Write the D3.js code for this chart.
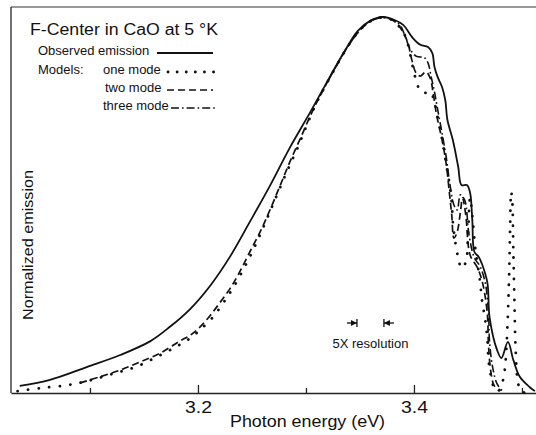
<!DOCTYPE html>
<html>
<head>
<meta charset="utf-8">
<script src="https://cdn.jsdelivr.net/npm/d3@7"></script>
<style>
  body { margin: 0; background: #fff; }
  text { font-family: "Liberation Sans", Arial, sans-serif; fill: #111; }
</style>
</head>
<body>
<div id="chart"></div>
<script>
// Photon energy (eV), normalized emission
const observedEmission = [
  [3.035, 0.019], [3.063, 0.035], [3.097, 0.069], [3.128, 0.101], [3.156, 0.138],
  [3.174, 0.176], [3.193, 0.224], [3.211, 0.284], [3.230, 0.364], [3.248, 0.455],
  [3.267, 0.553], [3.285, 0.652], [3.304, 0.747], [3.322, 0.840], [3.336, 0.910],
  [3.348, 0.963], [3.359, 0.989], [3.371, 1.000], [3.382, 0.992],
  [3.390, 0.979], [3.399, 0.944], [3.406, 0.926], [3.413, 0.920], [3.417, 0.904],
  [3.419, 0.867], [3.422, 0.840], [3.426, 0.814], [3.429, 0.779], [3.431, 0.726],
  [3.436, 0.673], [3.441, 0.601], [3.444, 0.553], [3.449, 0.553], [3.452, 0.532],
  [3.454, 0.460], [3.456, 0.375], [3.460, 0.362], [3.463, 0.343], [3.468, 0.293],
  [3.470, 0.202], [3.477, 0.114], [3.481, 0.093], [3.487, 0.136], [3.492, 0.088],
  [3.498, 0.043], [3.507, 0.016], [3.512, 0.005]
];

const oneMode = [
  [3.033, 0.005], [3.054, 0.013], [3.079, 0.021], [3.098, 0.032], [3.121, 0.051],
  [3.142, 0.069], [3.162, 0.096], [3.181, 0.125], [3.193, 0.146], [3.202, 0.168],
  [3.213, 0.199], [3.224, 0.242], [3.233, 0.282], [3.248, 0.362], [3.261, 0.444],
  [3.272, 0.519], [3.283, 0.593], [3.293, 0.657], [3.302, 0.721], [3.311, 0.779],
  [3.322, 0.838], [3.335, 0.904],
  [3.346, 0.952], [3.357, 0.984], [3.367, 0.997], [3.376, 0.997], [3.385, 0.979],
  [3.392, 0.949], [3.396, 0.907], [3.400, 0.854], [3.404, 0.814], [3.409, 0.798],
  [3.415, 0.801], [3.419, 0.774], [3.421, 0.747], [3.424, 0.707], [3.427, 0.660],
  [3.430, 0.606], [3.433, 0.553], [3.435, 0.505], [3.436, 0.455], [3.438, 0.407],
  [3.441, 0.359], [3.444, 0.332], [3.448, 0.348], [3.450, 0.420], [3.452, 0.519],
  [3.454, 0.473], [3.457, 0.380], [3.461, 0.301], [3.463, 0.247], [3.466, 0.194],
  [3.468, 0.141], [3.469, 0.088], [3.471, 0.048], [3.474, 0.016], [3.478, 0.005],
  [3.481, 0.019], [3.484, 0.061], [3.486, 0.141], [3.488, 0.301], [3.489, 0.434],
  [3.490, 0.535], [3.491, 0.513], [3.492, 0.380], [3.493, 0.247], [3.494, 0.128],
  [3.496, 0.035], [3.499, 0.005], [3.505, 0.000]
];

const twoMode = [
  [3.091, 0.027], [3.109, 0.043], [3.128, 0.061], [3.146, 0.082], [3.165, 0.106],
  [3.183, 0.138], [3.193, 0.154], [3.202, 0.176], [3.211, 0.205], [3.220, 0.239],
  [3.230, 0.279], [3.239, 0.324], [3.248, 0.375], [3.258, 0.431], [3.267, 0.489],
  [3.276, 0.551], [3.285, 0.614], [3.295, 0.678], [3.304, 0.737], [3.313, 0.790],
  [3.327, 0.864], [3.341, 0.931], [3.355, 0.979], [3.369, 1.000], [3.380, 0.992],
  [3.387, 0.973], [3.394, 0.934], [3.398, 0.886], [3.402, 0.851], [3.406, 0.843],
  [3.411, 0.854], [3.415, 0.838], [3.418, 0.793], [3.421, 0.739], [3.426, 0.673],
  [3.430, 0.606], [3.433, 0.527], [3.435, 0.473], [3.437, 0.412], [3.440, 0.428],
  [3.443, 0.481], [3.445, 0.519], [3.448, 0.473], [3.452, 0.367], [3.459, 0.332],
  [3.464, 0.287], [3.468, 0.207], [3.469, 0.128], [3.471, 0.061], [3.474, 0.021],
  [3.479, 0.005]
];

const threeMode = [
  [3.313, 0.790], [3.327, 0.864], [3.341, 0.931], [3.355, 0.979], [3.367, 0.997],
  [3.378, 0.995], [3.387, 0.979], [3.392, 0.947], [3.397, 0.912], [3.402, 0.896],
  [3.410, 0.891], [3.413, 0.878], [3.416, 0.840], [3.419, 0.801], [3.422, 0.753],
  [3.426, 0.691], [3.430, 0.625], [3.433, 0.561], [3.437, 0.500], [3.440, 0.487],
  [3.443, 0.527], [3.447, 0.513], [3.451, 0.420], [3.456, 0.359], [3.461, 0.338],
  [3.466, 0.293], [3.469, 0.215], [3.470, 0.136], [3.473, 0.066], [3.477, 0.024],
  [3.482, 0.005]
];

const minorTicks = [3.1, 3.3, 3.5];
const majorTicks = [3.2, 3.4];
const xDomain = [3.0269, 3.513];

// 5X resolution marker (eV)
const resolutionMarks = [3.3472, 3.3722];

const legendItems = [
  { label: "Observed emission", style: "solid" },
  { label: "one mode", style: "dotted" },
  { label: "two mode", style: "dashed" },
  { label: "three mode", style: "dashdot" }
];

// Set up chart dimensions
const width = 536;
const height = 435;
const plot = { left: 11, right: 536, top: 7, bottom: 393 };

const svg = d3
  .select("#chart")
  .append("svg")
  .attr("width", width)
  .attr("height", height);

const x = d3.scaleLinear().domain(xDomain).range([plot.left, plot.right]);
const y = d3.scaleLinear().domain([0, 1]).range([plot.bottom, 17]);

const styles = {
  solid: { dash: null, width: 1.8, cap: "butt" },
  dotted: { dash: "0.1 10.5", width: 2.8, cap: "round" },
  dashed: { dash: "7 4", width: 1.7, cap: "butt" },
  dashdot: { dash: "8 3 1.6 3", width: 1.6, cap: "butt" }
};

// Frame: top and left edges
svg.append("line")
  .attr("x1", plot.left).attr("x2", plot.right)
  .attr("y1", plot.top).attr("y2", plot.top)
  .attr("stroke", "#333").attr("stroke-width", 1.2);
svg.append("line")
  .attr("x1", plot.left).attr("x2", plot.left)
  .attr("y1", plot.top).attr("y2", plot.bottom)
  .attr("stroke", "#222").attr("stroke-width", 1.3);

// Bottom axis with inward ticks
svg.append("g")
  .attr("transform", `translate(0,${plot.bottom})`)
  .call(d3.axisBottom(x).tickValues(minorTicks).tickSize(-5).tickSizeOuter(0).tickFormat(""))
  .call((g) => g.select(".domain").attr("stroke", "#222").attr("stroke-width", 1.4))
  .call((g) => g.selectAll(".tick line").attr("stroke", "#222").attr("stroke-width", 1.3));

const major = svg.append("g")
  .attr("transform", `translate(0,${plot.bottom})`)
  .call(d3.axisBottom(x).tickValues(majorTicks).tickSize(-8).tickSizeOuter(0).tickPadding(8).tickFormat(d3.format(".1f")));
major.select(".domain").remove();
major.selectAll(".tick line").attr("stroke", "#222").attr("stroke-width", 1.3);
major.selectAll(".tick text")
  .attr("fill", "#111")
  .style("font-family", "Liberation Sans, Arial, sans-serif")
  .style("font-size", "17px")
  .attr("textLength", 27)
  .attr("lengthAdjust", "spacingAndGlyphs");

// Axis titles
svg.append("text")
  .attr("x", 230).attr("y", 427)
  .attr("textLength", 155).attr("lengthAdjust", "spacingAndGlyphs")
  .style("font-size", "17px")
  .text("Photon  energy (eV)");

svg.append("text")
  .attr("transform", "translate(33,320) rotate(-90)")
  .attr("textLength", 150).attr("lengthAdjust", "spacingAndGlyphs")
  .style("font-size", "15px")
  .text("Normalized  emission");

// Curves
const line = d3.line()
  .x((d) => x(d[0]))
  .y((d) => y(d[1]))
  .curve(d3.curveCatmullRom.alpha(0.5));

const series = [
  { data: twoMode, style: "dashed" },
  { data: threeMode, style: "dashdot" },
  { data: oneMode, style: "dotted" },
  { data: observedEmission, style: "solid" }
];

series.forEach((s) => {
  const st = styles[s.style];
  svg.append("path")
    .datum(s.data)
    .attr("fill", "none")
    .attr("stroke", "#111")
    .attr("stroke-width", st.width)
    .attr("stroke-linecap", st.cap)
    .attr("stroke-linejoin", "round")
    .attr("stroke-dasharray", st.dash)
    .attr("d", line);
});

// Legend
svg.append("text")
  .attr("x", 30).attr("y", 35)
  .attr("textLength", 188).attr("lengthAdjust", "spacingAndGlyphs")
  .style("font-size", "16px")
  .text("F-Center in CaO at 5 °K");

svg.append("text").attr("x", 38).attr("y", 74).style("font-size", "13px").text("Models:");

const legendRows = [
  { x: 38, y: 55, x1: 157, x2: 213 },
  { x: 103, y: 74, x1: 168, x2: 214 },
  { x: 105, y: 92, x1: 167, x2: 213 },
  { x: 103, y: 110, x1: 171, x2: 215 }
];

legendItems.forEach((item, i) => {
  const row = legendRows[i];
  const st = styles[item.style];
  svg.append("text")
    .attr("x", row.x).attr("y", row.y)
    .style("font-size", "13px")
    .text(item.label);
  svg.append("line")
    .attr("x1", row.x1).attr("x2", row.x2)
    .attr("y1", row.y - 2).attr("y2", row.y - 2)
    .attr("stroke", "#111")
    .attr("stroke-width", st.width)
    .attr("stroke-linecap", st.cap)
    .attr("stroke-dasharray", item.style === "dotted" ? "0.1 9" : st.dash);
});

// 5X resolution marker
const resY = 323;
const [rLeft, rRight] = resolutionMarks.map(x);
const res = svg.append("g").attr("stroke", "#111").attr("fill", "#111");
res.append("line").attr("x1", rLeft).attr("x2", rLeft).attr("y1", resY - 4).attr("y2", resY + 4).attr("stroke-width", 1.3);
res.append("line").attr("x1", rLeft - 10).attr("x2", rLeft).attr("y1", resY).attr("y2", resY).attr("stroke-width", 1.3);
res.append("path").attr("d", `M${rLeft},${resY} L${rLeft - 6},${resY - 3} L${rLeft - 6},${resY + 3} Z`).attr("stroke", "none");
res.append("line").attr("x1", rRight).attr("x2", rRight).attr("y1", resY - 4).attr("y2", resY + 4).attr("stroke-width", 1.3);
res.append("line").attr("x1", rRight).attr("x2", rRight + 10).attr("y1", resY).attr("y2", resY).attr("stroke-width", 1.3);
res.append("path").attr("d", `M${rRight},${resY} L${rRight + 6},${resY - 3} L${rRight + 6},${resY + 3} Z`).attr("stroke", "none");

svg.append("text")
  .attr("x", (rLeft + rRight) / 2).attr("y", 348)
  .attr("text-anchor", "middle")
  .style("font-size", "13px")
  .text("5X resolution");
</script>
</body>
</html>
